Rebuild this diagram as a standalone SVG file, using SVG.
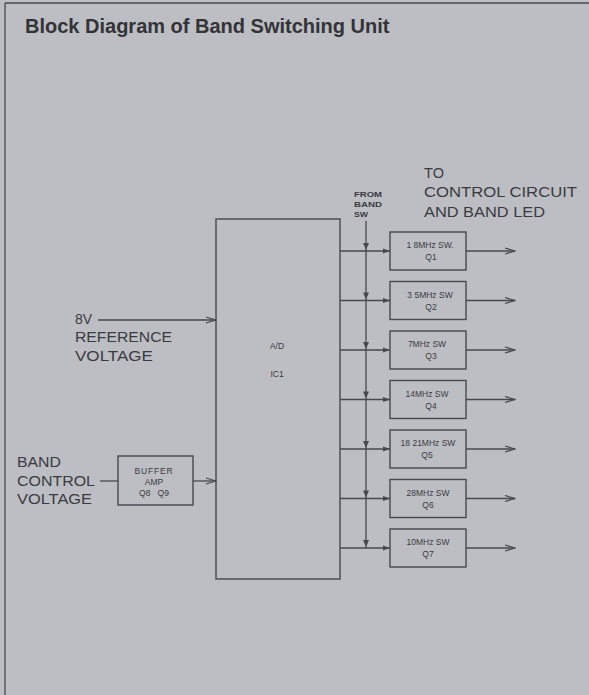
<svg xmlns="http://www.w3.org/2000/svg" width="589" height="695" viewBox="0 0 589 695">
<style>
  .ln{stroke:#48484e;stroke-width:1.3;fill:none}
  .box{stroke:#48484e;stroke-width:1.4;fill:none}
  .t{font-family:"Liberation Sans",Arial,sans-serif;fill:#3a3a40}
  .big{font-size:14px}
  .sm{font-size:8.5px;text-anchor:middle}
  .title{font-size:20px;font-weight:bold;fill:#333338}
</style>
<defs>
  <marker id="open" markerWidth="12" markerHeight="8" refX="11" refY="4" orient="auto" markerUnits="userSpaceOnUse">
    <path d="M1,1 L11,4 L1,7" fill="none" stroke="#48484e" stroke-width="1.2"/>
  </marker>
  <marker id="fill" markerWidth="8" markerHeight="6" refX="7" refY="3" orient="auto" markerUnits="userSpaceOnUse">
    <path d="M0,0.5 L7,3 L0,5.5 Z" fill="#48484e"/>
  </marker>
</defs>
<rect x="0" y="0" width="589" height="695" fill="#bdbec3"/>
<g id="frame">
  <line x1="5" y1="3" x2="589" y2="3" class="ln"/>
  <line x1="5" y1="3" x2="5" y2="695" class="ln" stroke-width="1.8"/>
</g>
<text class="t title" x="25" y="33">Block Diagram of Band Switching Unit</text>

<g id="label-ref">
  <text class="t big" x="75" y="324">8V</text>
  <text class="t big" x="75" y="342" textLength="97" lengthAdjust="spacingAndGlyphs">REFERENCE</text>
  <text class="t big" x="75" y="361" textLength="78" lengthAdjust="spacingAndGlyphs">VOLTAGE</text>
</g>
<g id="label-band">
  <text class="t big" x="17" y="467" textLength="44" lengthAdjust="spacingAndGlyphs">BAND</text>
  <text class="t big" x="17" y="486" textLength="78" lengthAdjust="spacingAndGlyphs">CONTROL</text>
  <text class="t big" x="17" y="504" textLength="75" lengthAdjust="spacingAndGlyphs">VOLTAGE</text>
</g>
<g id="label-to">
  <text class="t big" x="424" y="178" textLength="20" lengthAdjust="spacingAndGlyphs">TO</text>
  <text class="t big" x="424" y="197" textLength="153" lengthAdjust="spacingAndGlyphs">CONTROL CIRCUIT</text>
  <text class="t big" x="424" y="217" textLength="121" lengthAdjust="spacingAndGlyphs">AND BAND LED</text>
</g>
<g id="label-from">
  <text class="t" font-size="8" font-weight="bold" x="354" y="197" textLength="28" lengthAdjust="spacingAndGlyphs">FROM</text>
  <text class="t" font-size="8" font-weight="bold" x="354" y="207" textLength="28" lengthAdjust="spacingAndGlyphs">BAND</text>
  <text class="t" font-size="8" font-weight="bold" x="354" y="217" textLength="14" lengthAdjust="spacingAndGlyphs">SW</text>
</g>

<g id="buffer">
  <rect class="box" x="118" y="456" width="75" height="49"/>
  <text class="t sm" x="154" y="474" letter-spacing="0.8">BUFFER</text>
  <text class="t sm" x="154" y="485">AMP</text>
  <text class="t sm" x="154" y="496" xml:space="preserve">Q8   Q9</text>
</g>
<g id="ad">
  <rect class="box" x="216" y="219" width="124" height="360"/>
  <text class="t sm" x="277" y="349">A/D</text>
  <text class="t sm" x="277" y="377">IC1</text>
</g>

<g id="sw1"><rect class="box" x="390" y="232" width="76" height="38"/><text class="t sm" x="430" y="248">1 8MHz SW.</text><text class="t sm" x="431" y="260">Q1</text></g>
<g id="sw2"><rect class="box" x="390" y="281.5" width="76" height="38"/><text class="t sm" x="430" y="297.5">3 5MHz SW</text><text class="t sm" x="431" y="309.5">Q2</text></g>
<g id="sw3"><rect class="box" x="390" y="331" width="76" height="38"/><text class="t sm" x="427" y="347">7MHz SW</text><text class="t sm" x="431" y="359">Q3</text></g>
<g id="sw4"><rect class="box" x="390" y="380.5" width="76" height="38"/><text class="t sm" x="427" y="396.5">14MHz SW</text><text class="t sm" x="431" y="408.5">Q4</text></g>
<g id="sw5"><rect class="box" x="390" y="430" width="76" height="38"/><text class="t sm" x="428" y="446">18 21MHz SW</text><text class="t sm" x="427" y="458">Q5</text></g>
<g id="sw6"><rect class="box" x="390" y="479.5" width="76" height="38"/><text class="t sm" x="428" y="495.5">28MHz SW</text><text class="t sm" x="428" y="507.5">Q6</text></g>
<g id="sw7"><rect class="box" x="390" y="529" width="76" height="38"/><text class="t sm" x="428" y="545">10MHz SW</text><text class="t sm" x="428" y="557">Q7</text></g>

<g id="connectors">
  <line class="ln" x1="98" y1="320" x2="216" y2="320" marker-end="url(#open)"/>
  <line class="ln" x1="100" y1="481" x2="118" y2="481"/>
  <line class="ln" x1="193" y1="481" x2="216" y2="481" marker-end="url(#open)"/>
  <line class="ln" x1="366" y1="221" x2="366" y2="548"/>
  <g id="rows">
    <line class="ln" x1="340" y1="251" x2="390" y2="251" marker-end="url(#fill)"/>
    <line class="ln" x1="340" y1="300.5" x2="390" y2="300.5" marker-end="url(#fill)"/>
    <line class="ln" x1="340" y1="350" x2="390" y2="350" marker-end="url(#fill)"/>
    <line class="ln" x1="340" y1="399.5" x2="390" y2="399.5" marker-end="url(#fill)"/>
    <line class="ln" x1="340" y1="449" x2="390" y2="449" marker-end="url(#fill)"/>
    <line class="ln" x1="340" y1="498.5" x2="390" y2="498.5" marker-end="url(#fill)"/>
    <line class="ln" x1="340" y1="548" x2="390" y2="548" marker-end="url(#fill)"/>
  </g>
  <g id="down" fill="#48484e">
    <path d="M363,243 L369,243 L366,250 Z"/>
    <path d="M363,292.5 L369,292.5 L366,299.5 Z"/>
    <path d="M363,342 L369,342 L366,349 Z"/>
    <path d="M363,391.5 L369,391.5 L366,398.5 Z"/>
    <path d="M363,441 L369,441 L366,448 Z"/>
    <path d="M363,490.5 L369,490.5 L366,497.5 Z"/>
    <path d="M363,540 L369,540 L366,547 Z"/>
  </g>
  <g id="outs">
    <line class="ln" x1="466" y1="251" x2="515" y2="251" marker-end="url(#open)"/>
    <line class="ln" x1="466" y1="300.5" x2="515" y2="300.5" marker-end="url(#open)"/>
    <line class="ln" x1="466" y1="350" x2="515" y2="350" marker-end="url(#open)"/>
    <line class="ln" x1="466" y1="399.5" x2="515" y2="399.5" marker-end="url(#open)"/>
    <line class="ln" x1="466" y1="449" x2="515" y2="449" marker-end="url(#open)"/>
    <line class="ln" x1="466" y1="498.5" x2="515" y2="498.5" marker-end="url(#open)"/>
    <line class="ln" x1="466" y1="548" x2="515" y2="548" marker-end="url(#open)"/>
  </g>
</g>
</svg>
